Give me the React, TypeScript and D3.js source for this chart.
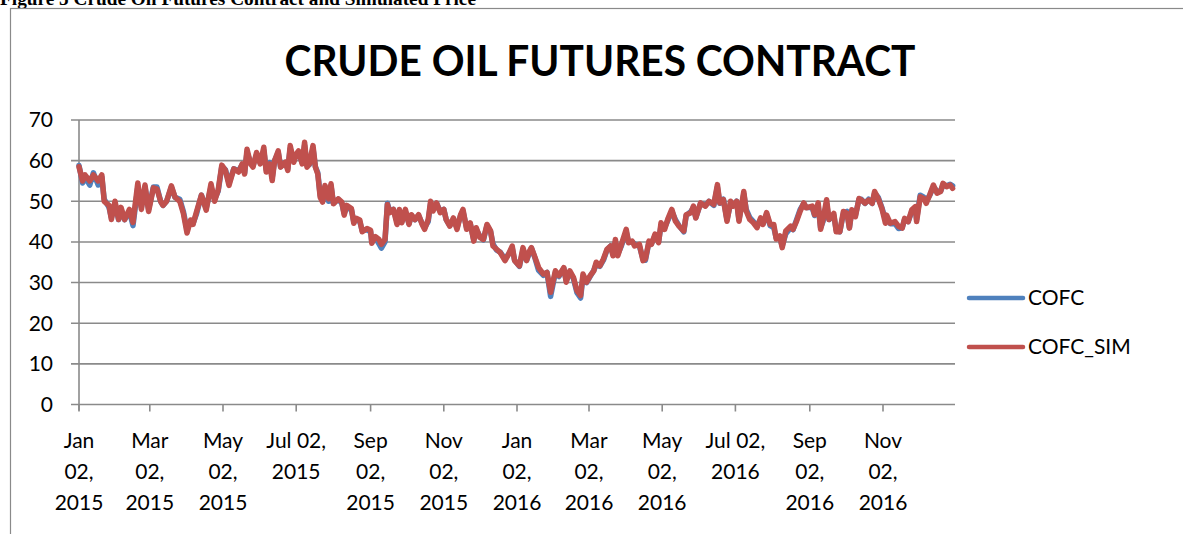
import React, { useEffect, useRef } from 'react';
import * as d3 from 'd3';

const dates = [
  '2015-01-02', '2015-01-05', '2015-01-07', '2015-01-11', '2015-01-14', '2015-01-18', '2015-01-21', '2015-01-23', '2015-01-27', '2015-01-29',
  '2015-02-01', '2015-02-04', '2015-02-06', '2015-02-09', '2015-02-13', '2015-02-16', '2015-02-20', '2015-02-23', '2015-02-26',
  '2015-03-01', '2015-03-05', '2015-03-08', '2015-03-11', '2015-03-13', '2015-03-16', '2015-03-20', '2015-03-23', '2015-03-27', '2015-03-30',
  '2015-04-02', '2015-04-05', '2015-04-07', '2015-04-10', '2015-04-14', '2015-04-18', '2015-04-22', '2015-04-25', '2015-04-28',
  '2015-05-01', '2015-05-04', '2015-05-07', '2015-05-11', '2015-05-15', '2015-05-18', '2015-05-20', '2015-05-22', '2015-05-25', '2015-05-27', '2015-05-30',
  '2015-06-02', '2015-06-05', '2015-06-07', '2015-06-10', '2015-06-12', '2015-06-14', '2015-06-17', '2015-06-19', '2015-06-23', '2015-06-25', '2015-06-27', '2015-06-30',
  '2015-07-02', '2015-07-04', '2015-07-07', '2015-07-09', '2015-07-11', '2015-07-13', '2015-07-16', '2015-07-18', '2015-07-20', '2015-07-22', '2015-07-24', '2015-07-26', '2015-07-29', '2015-07-31',
  '2015-08-02', '2015-08-06', '2015-08-09', '2015-08-11', '2015-08-13', '2015-08-17', '2015-08-19', '2015-08-21', '2015-08-24', '2015-08-26', '2015-08-30',
  '2015-09-02', '2015-09-03', '2015-09-06', '2015-09-09', '2015-09-11', '2015-09-14', '2015-09-16', '2015-09-18', '2015-09-21', '2015-09-24', '2015-09-26', '2015-09-28',
  '2015-10-01', '2015-10-04', '2015-10-06', '2015-10-09', '2015-10-12', '2015-10-15', '2015-10-17', '2015-10-20', '2015-10-22', '2015-10-24', '2015-10-27', '2015-10-30',
  '2015-11-02', '2015-11-04', '2015-11-07', '2015-11-10', '2015-11-13', '2015-11-16', '2015-11-18', '2015-11-21', '2015-11-24', '2015-11-27', '2015-11-29',
  '2015-12-02', '2015-12-05', '2015-12-08', '2015-12-11', '2015-12-13', '2015-12-16', '2015-12-19', '2015-12-23', '2015-12-26', '2015-12-29', '2015-12-31',
  '2016-01-04', '2016-01-07', '2016-01-10', '2016-01-12', '2016-01-14', '2016-01-17', '2016-01-20', '2016-01-24', '2016-01-27', '2016-01-30',
  '2016-02-03', '2016-02-06', '2016-02-10', '2016-02-12', '2016-02-15', '2016-02-18', '2016-02-21', '2016-02-24', '2016-02-26', '2016-02-29',
  '2016-03-03', '2016-03-06', '2016-03-08', '2016-03-11', '2016-03-14', '2016-03-17', '2016-03-20', '2016-03-22', '2016-03-24', '2016-03-26', '2016-03-29',
  '2016-04-02', '2016-04-04', '2016-04-07', '2016-04-09', '2016-04-13', '2016-04-16', '2016-04-18', '2016-04-21', '2016-04-23', '2016-04-26', '2016-04-29',
  '2016-05-01', '2016-05-04', '2016-05-07', '2016-05-10', '2016-05-13', '2016-05-16', '2016-05-20', '2016-05-22', '2016-05-26', '2016-05-28', '2016-05-30',
  '2016-06-03', '2016-06-07', '2016-06-10', '2016-06-14', '2016-06-17', '2016-06-19', '2016-06-22', '2016-06-25', '2016-06-28', '2016-06-30',
  '2016-07-03', '2016-07-05', '2016-07-09', '2016-07-11', '2016-07-14', '2016-07-17', '2016-07-20', '2016-07-23', '2016-07-25', '2016-07-28', '2016-07-31',
  '2016-08-03', '2016-08-05', '2016-08-08', '2016-08-10', '2016-08-13', '2016-08-17', '2016-08-19', '2016-08-22', '2016-08-25', '2016-08-28', '2016-08-30',
  '2016-09-04', '2016-09-06', '2016-09-09', '2016-09-11', '2016-09-13', '2016-09-16', '2016-09-18', '2016-09-22', '2016-09-24', '2016-09-27', '2016-09-30',
  '2016-10-03', '2016-10-05', '2016-10-07', '2016-10-10', '2016-10-13', '2016-10-15', '2016-10-18', '2016-10-21', '2016-10-24', '2016-10-26', '2016-10-29',
  '2016-11-01', '2016-11-04', '2016-11-05', '2016-11-08', '2016-11-12', '2016-11-15', '2016-11-18', '2016-11-20', '2016-11-23', '2016-11-26', '2016-11-29', '2016-11-30',
  '2016-12-03', '2016-12-06', '2016-12-08', '2016-12-11', '2016-12-14', '2016-12-17', '2016-12-20', '2016-12-22', '2016-12-25', '2016-12-28', '2016-12-30',
];

const cofc = [
  58.8, 54.5, 56.0, 54.0, 57.0, 54.0, 56.0, 50.5, 48.5, 46.0,
  49.5, 45.5, 48.0, 45.5, 47.5, 44.0, 53.5, 48.5, 53.5,
  48.0, 53.5, 53.5, 50.0, 49.0, 50.0, 53.5, 51.0, 50.5, 47.5,
  43.0, 45.0, 44.5, 47.0, 51.5, 48.3, 53.5, 50.5, 52.5,
  58.5, 57.8, 54.5, 58.0, 57.5, 59.0, 57.0, 62.0, 59.5, 58.8, 61.5,
  59.5, 62.5, 57.8, 59.5, 55.8, 60.0, 62.0, 58.5, 59.5, 58.0, 63.0, 60.0,
  61.5, 62.0, 59.5, 63.8, 58.8, 59.0, 63.0, 58.5, 57.0, 51.5, 50.0, 53.5, 50.0, 53.8,
  49.5, 50.5, 49.5, 47.0, 48.5, 48.0, 45.0, 45.5, 45.0, 42.8, 43.0,
  42.5, 40.0, 41.0, 39.5, 38.5, 40.0, 49.5, 47.5, 48.0, 45.0, 47.5, 45.0,
  47.5, 44.5, 46.5, 45.5, 46.5, 44.5, 43.5, 45.0, 49.5, 48.0, 49.5, 47.5,
  48.0, 45.5, 44.0, 45.5, 43.5, 46.5, 47.5, 43.5, 44.5, 40.5, 43.0,
  41.5, 40.5, 44.0, 42.5, 39.5, 38.0, 37.5, 35.8, 37.0, 38.5, 35.5,
  34.0, 38.0, 35.5, 37.0, 38.5, 36.0, 33.0, 31.8, 32.5, 26.6,
  32.5, 31.5, 33.5, 30.5, 32.5, 31.0, 27.5, 26.2, 31.5, 30.0,
  31.5, 33.0, 34.5, 34.0, 35.5, 38.0, 39.0, 37.0, 40.0, 37.0, 39.0,
  42.5, 40.0, 40.0, 39.5, 39.0, 35.8, 35.5, 40.0, 39.5, 41.5, 40.0,
  44.0, 43.5, 45.5, 47.5, 45.5, 44.0, 42.5, 46.5, 47.5, 48.5, 46.0,
  49.5, 49.0, 50.0, 49.0, 53.5, 49.5, 50.5, 45.5, 49.5, 49.0,
  50.0, 45.5, 51.8, 48.0, 46.0, 45.0, 44.0, 45.5, 44.5, 46.8, 44.0,
  43.5, 41.0, 41.0, 39.0, 42.0, 43.5, 43.0, 45.5, 48.0, 49.5, 48.5,
  48.5, 46.5, 49.0, 43.5, 45.0, 49.5, 45.5, 46.5, 43.0, 42.5, 47.0,
  47.5, 43.5, 47.5, 46.5, 50.5, 50.5, 49.5, 50.5, 49.5, 52.0, 51.0,
  48.5, 45.5, 46.0, 44.5, 44.5, 43.3, 43.5, 45.5, 45.0, 47.5, 48.5, 45.5,
  51.5, 51.0, 50.0, 51.5, 53.5, 52.5, 52.5, 54.0, 53.8, 54.2, 53.8,
];

const cofcSim = [
  58.5, 55.0, 56.5, 55.0, 56.5, 55.0, 56.5, 50.0, 49.0, 45.5,
  50.0, 45.5, 48.5, 45.5, 48.0, 44.8, 54.5, 48.0, 54.0,
  47.5, 53.3, 53.0, 50.0, 49.0, 50.0, 53.8, 51.0, 50.0, 47.0,
  42.2, 45.4, 44.3, 47.5, 51.5, 47.8, 54.3, 50.0, 52.8,
  58.9, 57.6, 53.9, 58.0, 57.2, 59.2, 56.7, 62.8, 59.2, 58.4, 62.0,
  59.2, 63.3, 57.2, 59.2, 55.1, 60.0, 62.4, 58.4, 59.6, 57.6, 63.7, 59.6,
  61.6, 62.4, 59.2, 64.5, 58.4, 59.2, 63.7, 58.4, 56.7, 51.0, 49.8, 53.9, 50.6, 54.3,
  49.4, 50.6, 49.8, 46.6, 49.0, 48.2, 44.6, 45.8, 45.4, 42.5, 43.3,
  42.9, 39.7, 41.3, 40.6, 39.4, 40.6, 49.2, 47.2, 48.0, 44.3, 48.0, 44.7,
  48.0, 44.3, 46.7, 45.5, 46.7, 44.3, 43.1, 45.5, 50.0, 47.6, 49.6, 47.2,
  48.0, 45.5, 43.9, 45.9, 43.1, 46.7, 48.0, 43.1, 44.7, 40.2, 43.5,
  41.1, 40.6, 44.3, 42.7, 39.0, 38.2, 37.4, 35.4, 37.0, 39.0, 35.4,
  34.1, 38.6, 35.4, 37.5, 38.6, 36.2, 33.7, 32.1, 32.5, 27.6,
  32.9, 31.7, 33.7, 30.1, 32.9, 31.3, 28.0, 26.8, 32.1, 30.1,
  31.7, 32.9, 35.0, 34.1, 35.8, 38.2, 39.0, 36.6, 40.6, 36.6, 39.4,
  43.1, 39.8, 40.2, 39.0, 39.4, 35.4, 35.8, 40.2, 39.4, 41.9, 39.8,
  44.7, 43.1, 45.9, 48.0, 45.1, 43.9, 42.7, 46.7, 47.2, 48.8, 45.9,
  49.6, 48.8, 50.0, 49.2, 54.1, 49.6, 50.4, 45.1, 50.0, 48.8,
  50.0, 45.1, 52.4, 47.6, 45.5, 44.7, 43.5, 45.9, 44.3, 47.2, 44.3,
  44.3, 40.7, 41.5, 38.6, 42.7, 43.9, 43.1, 45.1, 47.6, 49.6, 48.4,
  48.8, 46.7, 49.6, 43.1, 45.5, 50.4, 45.5, 47.0, 42.5, 42.5, 47.5,
  47.0, 43.4, 47.9, 46.2, 50.7, 50.3, 49.5, 50.3, 49.5, 52.4, 50.7,
  48.3, 44.6, 46.6, 44.6, 45.0, 43.8, 43.4, 45.8, 45.0, 47.9, 48.7, 45.0,
  51.1, 50.7, 49.5, 51.6, 54.0, 52.0, 52.4, 54.4, 53.6, 54.0, 53.2,
];

const tickDates = [
  '2015-01-02', '2015-03-02', '2015-05-02', '2015-07-02', '2015-09-02', '2015-11-02',
  '2016-01-02', '2016-03-02', '2016-05-02', '2016-07-02', '2016-09-02', '2016-11-02',
];
const yTicks = [0, 10, 20, 30, 40, 50, 60, 70];
const seriesNames = ['COFC', 'COFC_SIM'];
const seriesColors = ['#4F81BD', '#C0504D'];

const W = 1183;
const H = 534;
const FONT = 'Lato, "Open Sans", sans-serif';

const App = () => {
  const ref = useRef<SVGSVGElement>(null);

  useEffect(() => {
    const svg = d3.select(ref.current);
    svg.selectAll('*').remove();

    const parse = d3.timeParse('%Y-%m-%d');
    const x = d3.scaleTime()
      .domain([parse('2015-01-02'), parse('2017-01-01')])
      .range([79, 955]);
    const y = d3.scaleLinear().domain([0, 70]).range([404.5, 120]);

    // figure caption (cut off at top of the page) and chart frame
    svg.append('text')
      .attr('x', 0).attr('y', 5)
      .attr('font-family', '"Liberation Serif", "Times New Roman", serif')
      .attr('font-weight', 'bold').attr('font-size', 19)
      .attr('textLength', 476).attr('lengthAdjust', 'spacingAndGlyphs')
      .text('Figure 5 Crude Oil Futures Contract and Simulated Price');

    svg.append('rect')
      .attr('x', 10.5).attr('y', 8.5)
      .attr('width', 1300).attr('height', 700)
      .attr('fill', 'none').attr('stroke', '#8a8a8a').attr('stroke-width', 1.2);

    svg.append('text')
      .attr('x', 600).attr('y', 76)
      .attr('text-anchor', 'middle')
      .attr('font-family', FONT).attr('font-weight', 'bold').attr('font-size', 42)
      .attr('textLength', 631).attr('lengthAdjust', 'spacingAndGlyphs')
      .attr('fill', '#000')
      .text('CRUDE OIL FUTURES CONTRACT');

    // gridlines + y ticks
    const grid = svg.append('g');
    grid.selectAll('line')
      .data(yTicks)
      .enter()
      .append('line')
      .attr('x1', 71).attr('x2', x.range()[1])
      .attr('y1', d => y(d)).attr('y2', d => y(d))
      .attr('stroke', '#8a8a8a').attr('stroke-width', 1.6);

    svg.append('line')
      .attr('x1', 79).attr('x2', 79)
      .attr('y1', y(70)).attr('y2', y(0) + 6)
      .attr('stroke', '#8a8a8a').attr('stroke-width', 1.6);

    svg.append('g')
      .selectAll('text')
      .data(yTicks)
      .enter()
      .append('text')
      .attr('x', 53).attr('y', d => y(d))
      .attr('dy', '0.35em')
      .attr('text-anchor', 'end')
      .attr('font-family', FONT).attr('font-size', 21)
      .text(d => d);

    // x ticks and wrapped date labels
    const ticks = tickDates.map(s => parse(s));
    svg.append('g')
      .selectAll('line')
      .data(ticks)
      .enter()
      .append('line')
      .attr('x1', d => x(d)).attr('x2', d => x(d))
      .attr('y1', y(0)).attr('y2', y(0) + 7)
      .attr('stroke', '#8a8a8a').attr('stroke-width', 1.6);

    const fmt = d3.timeFormat('%b %d, %Y');
    const ctx = document.createElement('canvas').getContext('2d');
    if (ctx) ctx.font = `21px ${FONT}`;
    const wrap = (s: string) => {
      const w = s.split(' ');
      const first = `${w[0]} ${w[1]}`;
      const width = ctx ? ctx.measureText(first).width : 100;
      return width <= 61 ? [first, w[2]] : w;
    };

    const labels = svg.append('g')
      .selectAll('text')
      .data(ticks)
      .enter()
      .append('text')
      .attr('text-anchor', 'middle')
      .attr('font-family', FONT).attr('font-size', 21);
    labels.each(function (d) {
      const t = d3.select(this);
      wrap(fmt(d)).forEach((line, i) => {
        t.append('tspan')
          .attr('x', x(d))
          .attr('y', 448 + i * 31)
          .text(line);
      });
    });

    // series
    const pts = dates.map(s => parse(s));
    const line = d3.line<number>()
      .x((_, i) => x(pts[i]))
      .y(d => y(d));

    [cofc, cofcSim].forEach((vals, k) => {
      svg.append('path')
        .datum(vals)
        .attr('d', line)
        .attr('fill', 'none')
        .attr('stroke', seriesColors[k])
        .attr('stroke-width', 5.5)
        .attr('stroke-linejoin', 'round')
        .attr('stroke-linecap', 'round');
    });

    // legend
    const leg = svg.append('g')
      .selectAll('g')
      .data(seriesNames)
      .enter()
      .append('g')
      .attr('transform', (_, i) => `translate(969,${298 + i * 49})`);
    leg.append('line')
      .attr('x1', 0).attr('x2', 54)
      .attr('stroke', (_, i) => seriesColors[i])
      .attr('stroke-width', 4.5)
      .attr('stroke-linecap', 'round');
    leg.append('text')
      .attr('x', 59).attr('dy', '0.35em')
      .attr('font-family', FONT).attr('font-size', 21)
      .text(d => d);
  }, []);

  return (
    <svg
      ref={ref}
      width={W}
      height={H}
      style={{ position: 'absolute', left: 0, top: 0, background: '#fff' }}
    />
  );
};

export default App;
